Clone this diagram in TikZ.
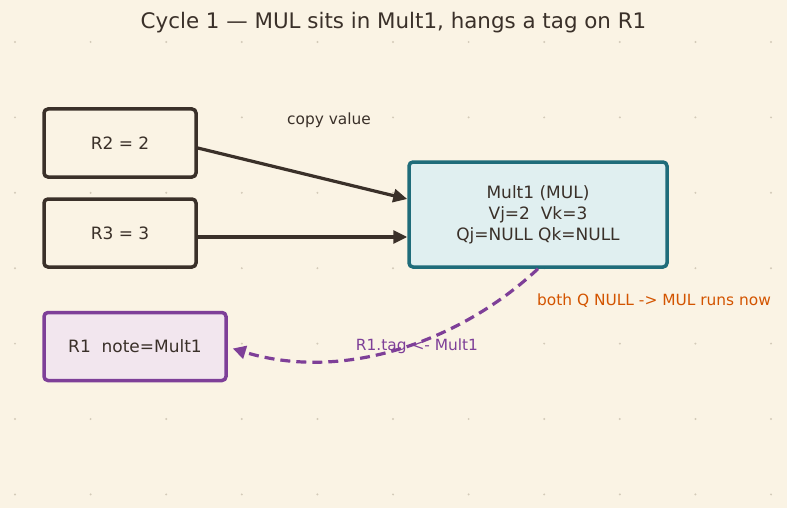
\documentclass[tikz,border=0pt]{standalone}
\usepackage{fontspec}
\setmainfont{DejaVu Sans}
\usetikzlibrary{arrows.meta}
\definecolor{bg}{HTML}{FAF3E4}
\definecolor{ink}{HTML}{3A3029}
\definecolor{teal}{HTML}{1F6C7A}
\definecolor{mfill}{HTML}{E0EFF0}
\definecolor{purp}{HTML}{7E3F98}
\definecolor{pfill}{HTML}{F2E6EE}
\definecolor{orng}{HTML}{D35400}
\definecolor{dotc}{HTML}{D3CAB8}
\tikzset{
  regbox/.style={draw=ink, line width=3.5pt, rounded corners=4pt, fill=bg, minimum width=152pt, minimum height=68pt, text=ink, font=\fontsize{17}{21}\selectfont},
  multbox/.style={draw=teal, line width=3.5pt, rounded corners=4pt, fill=mfill, minimum width=258pt, minimum height=105pt, text=ink, align=center, font=\fontsize{17}{21}\selectfont},
  r1box/.style={draw=purp, line width=3.5pt, rounded corners=4pt, fill=pfill, minimum width=182pt, minimum height=68pt, text=ink, font=\fontsize{17}{21}\selectfont},
  lbl/.style={font=\fontsize{15.4}{18}\selectfont, fill=bg, inner sep=1pt},
  flow/.style={draw=ink, line width=3.2pt, -{Triangle[length=14pt,width=13pt]}},
  tagflow/.style={draw=purp, line width=3.2pt, dash pattern=on 10pt off 6pt, -{Triangle[length=13pt,width=13pt]}},
}
\begin{document}
\begin{tikzpicture}[x=1pt,y=-1pt]
\fill[bg] (0,0) rectangle (787,508);
\useasboundingbox (0,0) rectangle (787,508);
\foreach \i in {0,...,10} {
  \foreach \j in {0,...,6} {
    \fill[dotc] ({15+75.6*\i},{42+75.4*\j}) circle (1.1pt);
  }
}
\node[text=ink, font=\fontsize{21.4}{25}\selectfont] (title) at (393.5,23) {Cycle 1 — MUL sits in Mult1, hangs a tag on R1};
\node[regbox] (r2) at (120,143) {R2 = 2};
\node[regbox] (r3) at (120,233) {R3 = 3};
\node[multbox] (m) at (538,214.5) {Mult1 (MUL)\\Vj=2\ \ Vk=3\\Qj=NULL Qk=NULL};
\node[r1box] (r1) at (135,346.5) {R1\ \ note=Mult1};
\coordinate (m2) at ([yshift=15.5pt]m.west);
\coordinate (m3) at ([yshift=-22.5pt]m.west);
\coordinate (r1in) at ([xshift=5pt,yshift=-2pt]r1.east);
\node[lbl, text=ink] (cv) at (329,120) {copy value};
\node[lbl, text=orng, anchor=west] (run) at (536,301) {both Q NULL -> MUL runs now};
\node[lbl, text=purp] (tag) at (417,346) {R1.tag <- Mult1};
\draw[flow] ([yshift=-5pt]r2.east) -- (m2);
\draw[flow] (r3.east |- m3) -- (m3);
\draw[tagflow] (m.south) .. controls (462,340) and (345,383) .. (r1in);
\end{tikzpicture}
\end{document}
